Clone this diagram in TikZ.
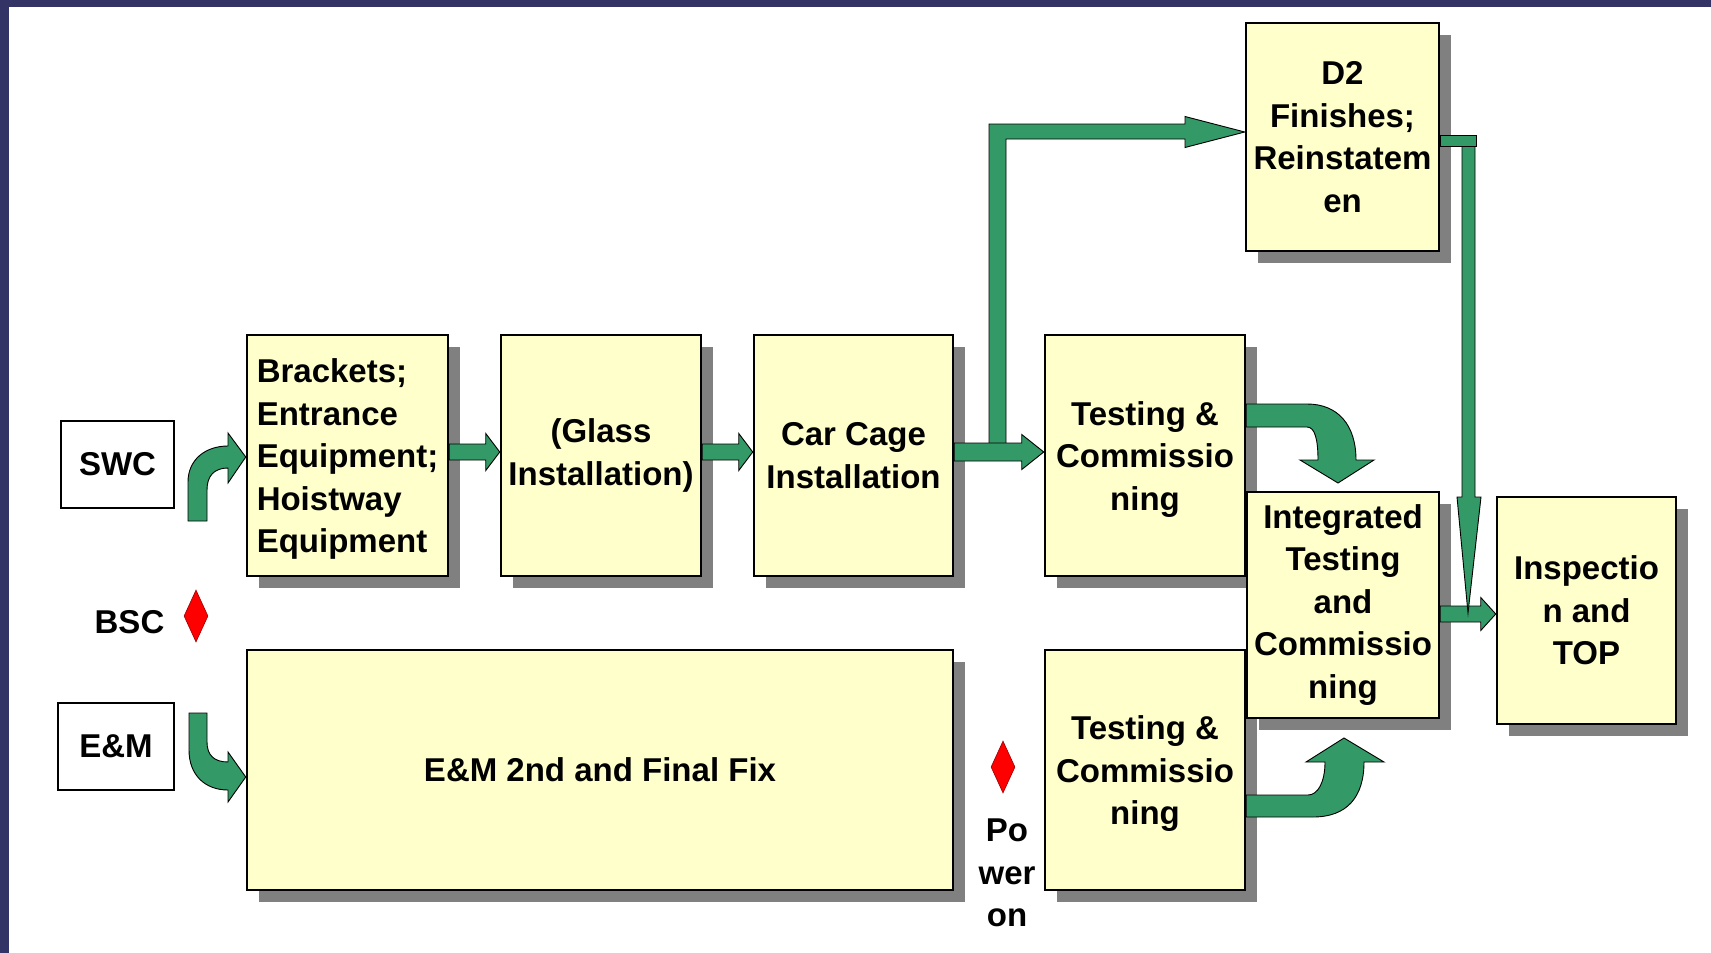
\documentclass[tikz,border=0pt]{standalone}
\usepackage{fontspec}
\setmainfont{Liberation Sans}
\usetikzlibrary{shapes.geometric,shadows,calc}
\definecolor{framecol}{HTML}{333366}
\definecolor{bgreen}{HTML}{339966}
\definecolor{byellow}{HTML}{FFFFCC}
\definecolor{sgray}{HTML}{808080}
\newcommand{\blockh}[5]{%
  \draw[blockarrow] let \p1=#1, \p2=#2 in
    (\x1,\y1+#3) -- (\x2-#5,\y1+#3) -- (\x2-#5,\y1+#4) -- (\x2,\y1)
    -- (\x2-#5,\y1-#4) -- (\x2-#5,\y1-#3) -- (\x1,\y1-#3) -- cycle;}
\begin{document}
\begin{tikzpicture}[x=1pt,y=-1pt,
  font=\fontsize{33}{42.5}\selectfont\bfseries,
  stagebox/.style={draw=black, line width=2.5pt, fill=byellow, inner sep=0pt, align=center,
     drop shadow={shadow xshift=12pt, shadow yshift=-12pt, fill=sgray, opacity=1}},
  partybox/.style={draw=black, line width=1.3pt, fill=white, inner sep=0pt},
  blockarrow/.style={fill=bgreen, draw=black, line width=0.9pt, line join=miter},
  milestone/.style={diamond, fill=red, draw=red!60!black, line width=0.6pt,
     minimum width=24pt, minimum height=52pt, inner sep=0pt},
  lbl/.style={inner sep=0pt, align=center}]
\useasboundingbox (0,0) rectangle (1711,953);
\fill[white] (0,0) rectangle (1711,953);
\fill[framecol] (0,0) rectangle (9,953);
\fill[framecol] (0,0) rectangle (1711,7);

% boxes
\node[stagebox, minimum width=201pt, minimum height=241pt, align=left] (brk) at (347.5,455.5)
  {\rule{0pt}{31pt}Brackets;\\Entrance\\Equipment;\\Hoistway\\Equipment};
\node[stagebox, minimum width=200pt, minimum height=241pt] (gls) at (601,455.5) {(Glass\\Installation)};
\node[stagebox, minimum width=199pt, minimum height=241pt] (car) at (853.5,455.5) {Car Cage\\Installation};
\node[stagebox, minimum width=200pt, minimum height=241pt] (tc1) at (1145,455.5)
  {\rule{0pt}{31pt}Testing \&\\Commissio\\ning};
\node[stagebox, minimum width=193pt, minimum height=228pt] (d2) at (1342.5,137)
  {D2\\Finishes;\\Reinstatem\\en};
\node[stagebox, minimum width=706pt, minimum height=240pt] (em2) at (600,770) {E\&M 2nd and Final Fix};
\node[stagebox, minimum width=200pt, minimum height=240pt] (tc2) at (1145,770)
  {\rule{0pt}{31pt}Testing \&\\Commissio\\ning};
\node[stagebox, minimum width=192pt, minimum height=226pt] (itc) at (1343,605)
  {Integrated\\Testing\\and\\Commissio\\ning};
\node[stagebox, minimum width=179pt, minimum height=227pt] (insp) at (1586.5,610.5)
  {Inspectio\\n and\\TOP};

\node[partybox, minimum width=113pt, minimum height=87pt] (swc) at (117.5,464.5) {SWC};
\node[partybox, minimum width=116pt, minimum height=87pt] (em) at (116,746.5) {E\&M};
\node[lbl] (bsc) at (129.5,622) {BSC};
\node[milestone] (bscm) at (196,616) {};
\node[milestone] (pwrm) at (1003,767) {};
\node[lbl] (pwr) at (1007,873) {Po\\wer\\on};

% straight block arrows
\blockh{([yshift=3.5pt]brk.east)}{([yshift=3.5pt]gls.west)}{8pt}{18.5pt}{14pt}
\blockh{([yshift=3.5pt]gls.east)}{([yshift=3.5pt]car.west)}{8pt}{18.5pt}{14pt}

% branch up to D2
\coordinate (jn) at (997.5,452);
\draw[blockarrow] (989,452) -- (989,124) -- (1185,124) -- (1185,116.5) -- (d2.west |- 0,132)
  -- (1185,147.5) -- (1185,139) -- (1006,139) -- (1006,452);
\blockh{([yshift=3.5pt]car.east)}{([yshift=3.5pt]tc1.west)}{9pt}{17.5pt}{22pt}

% into inspection
\blockh{(itc.east |- 0,614)}{(insp.west |- 0,614)}{8pt}{16.5pt}{15pt}
% D2 down to inspection arrow
\draw[blockarrow] (1462,146) -- (1462,497) -- (1457,497) -- (1468,613) -- (1481,497)
  -- (1475,497) -- (1475,146);
\draw[blockarrow] (d2.east |- 0,135) rectangle (1476,146);

% curved arrows into integrated testing
\draw[blockarrow] (tc1.east |- 0,404) -- (1307,404) .. controls (1338,404) and (1356,425) .. (1356,460)
  -- (1374,460) -- (1338,483) -- (1300,460) -- (1318,460)
  .. controls (1318,440) and (1315,427) .. (1307,427) -- (tc1.east |- 0,427) -- cycle;
\draw[blockarrow] (tc2.east |- 0,817) -- (1313,817) .. controls (1347,817) and (1364,797) .. (1364,762)
  -- (1384,762) -- (1344,738) -- (1306,762) -- (1325,762)
  .. controls (1325,782) and (1318,795) .. (1308,795) -- (tc2.east |- 0,795) -- cycle;

% curved arrows from SWC and E&M
\draw[blockarrow] (188,521) -- (188,482) .. controls (188,460) and (205,446) .. (228,446)
  -- (228,433) -- (brk.west |- 0,457) -- (228,483) -- (228,468)
  .. controls (214,468) and (207,476) .. (207,490) -- (207,521) -- cycle;
\draw[blockarrow] (189,713) -- (189,750) .. controls (189,775) and (205,790) .. (228,790)
  -- (228,802) -- (em2.west |- 0,777) -- (228,752) -- (228,762)
  .. controls (214,762) and (207,755) .. (207,742) -- (207,713) -- cycle;
\end{tikzpicture}
\end{document}
